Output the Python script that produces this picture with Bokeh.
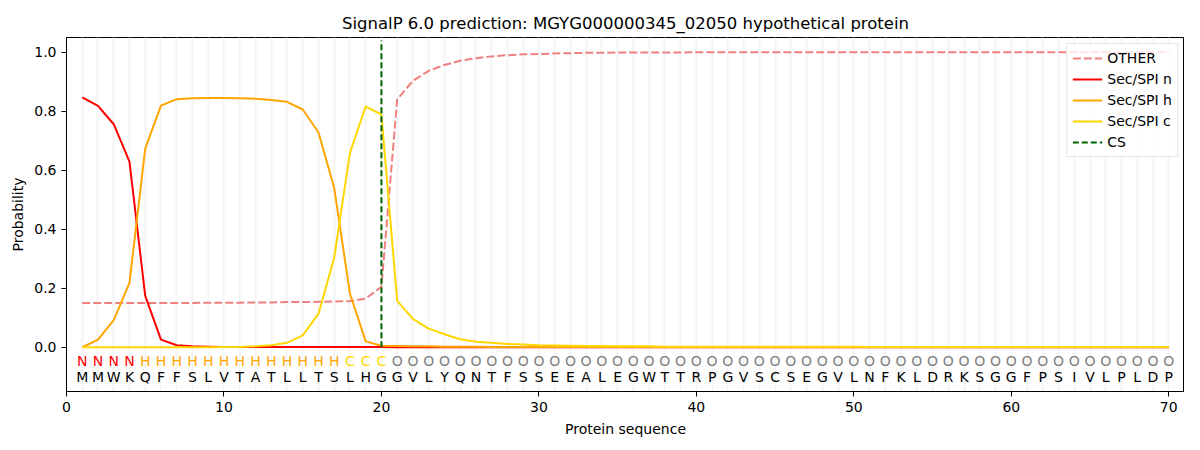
from bokeh.plotting import figure
from bokeh.models import Range1d, FixedTicker, Legend
from bokeh.core.properties import value
from bokeh.embed import file_html
from bokeh.resources import INLINE

title = "SignalP 6.0 prediction: MGYG000000345_02050 hypothetical protein"
sequence = "MMWKQFFSLVTATLLTSLHGGVLYQNTFSSEEALEGWTTRPGVSCSEGVLNFKLDRKSGGFPSIVLPLDP"
region_labels = "NNNNHHHHHHHHHHHHHCCC" + "O" * 50
positions = list(range(1, 71))
cs_position = 20

other = [0.150, 0.150, 0.150, 0.150, 0.150, 0.150, 0.150, 0.150, 0.151, 0.151,
         0.151, 0.152, 0.152, 0.153, 0.153, 0.154, 0.155, 0.156, 0.165, 0.205,
         0.840, 0.903, 0.937, 0.957, 0.971, 0.980, 0.986, 0.990, 0.993, 0.994,
         0.996, 0.997, 0.998, 0.998, 0.999, 0.999, 0.999, 0.999, 0.999, 1.000,
         1.000, 1.000, 1.000, 1.000, 1.000, 1.000, 1.000, 1.000, 1.000, 1.000,
         1.000, 1.000, 1.000, 1.000, 1.000, 1.000, 1.000, 1.000, 1.000, 1.000,
         1.000, 1.000, 1.000, 1.000, 1.000, 1.000, 1.000, 1.000, 1.000, 1.000]
sec_n = [0.847, 0.818, 0.756, 0.629, 0.174, 0.026, 0.007, 0.003, 0.002, 0.001,
         0.001, 0.001, 0.001, 0.001, 0.001, 0.001, 0.001, 0.001, 0.001, 0.001,
         0.000, 0.000, 0.000, 0.000, 0.000, 0.000, 0.000, 0.000, 0.000, 0.000,
         0.000, 0.000, 0.000, 0.000, 0.000, 0.000, 0.000, 0.000, 0.000, 0.000,
         0.000, 0.000, 0.000, 0.000, 0.000, 0.000, 0.000, 0.000, 0.000, 0.000,
         0.000, 0.000, 0.000, 0.000, 0.000, 0.000, 0.000, 0.000, 0.000, 0.000,
         0.000, 0.000, 0.000, 0.000, 0.000, 0.000, 0.000, 0.000, 0.000, 0.000]
sec_h = [0.000, 0.026, 0.092, 0.218, 0.673, 0.819, 0.841, 0.844, 0.845, 0.845,
         0.844, 0.842, 0.838, 0.832, 0.806, 0.729, 0.540, 0.182, 0.020, 0.005,
         0.004, 0.003, 0.003, 0.002, 0.002, 0.002, 0.001, 0.001, 0.001, 0.001,
         0.001, 0.001, 0.001, 0.001, 0.001, 0.001, 0.001, 0.001, 0.001, 0.001,
         0.001, 0.001, 0.001, 0.001, 0.001, 0.001, 0.001, 0.001, 0.001, 0.001,
         0.001, 0.001, 0.001, 0.001, 0.001, 0.001, 0.001, 0.001, 0.001, 0.001,
         0.001, 0.001, 0.001, 0.001, 0.001, 0.001, 0.001, 0.001, 0.001, 0.001]
sec_c = [0.000, 0.000, 0.000, 0.000, 0.000, 0.000, 0.000, 0.000, 0.000, 0.001,
         0.001, 0.003, 0.007, 0.015, 0.040, 0.113, 0.303, 0.659, 0.816, 0.789,
         0.157, 0.096, 0.063, 0.044, 0.027, 0.019, 0.015, 0.011, 0.009, 0.007,
         0.006, 0.005, 0.004, 0.004, 0.003, 0.003, 0.003, 0.002, 0.002, 0.002,
         0.002, 0.002, 0.002, 0.002, 0.002, 0.002, 0.002, 0.002, 0.002, 0.002,
         0.001, 0.001, 0.001, 0.001, 0.001, 0.001, 0.001, 0.001, 0.001, 0.001,
         0.001, 0.001, 0.001, 0.001, 0.001, 0.001, 0.001, 0.001, 0.001, 0.001]
x_ticks = [0, 10, 20, 30, 40, 50, 60, 70]
y_ticks = [0.0, 0.2, 0.4, 0.6, 0.8, 1.0]

FONT = "DejaVu Sans"
label_colors = {"N": "red", "H": "orange", "C": "gold", "O": "gray"}

p = figure(width=1184, height=441, output_backend="svg", toolbar_location=None,
           x_range=Range1d(0, 71), y_range=Range1d(-0.15, 1.05),
           min_border_left=66, min_border_right=0, min_border_top=37, min_border_bottom=50)

p.title.text = title
p.title.align = "center"
p.title.text_font = FONT
p.title.text_font_size = "16.5px"
p.title.text_font_style = "normal"
p.title.text_color = "black"

p.outline_line_color = "black"
p.outline_line_alpha = 1
p.outline_line_width = 1

p.ygrid.visible = False
p.xgrid.ticker = FixedTicker(ticks=positions)
p.xgrid.grid_line_color = "#f4f4f4"
p.xgrid.grid_line_width = 2
p.xgrid.grid_line_alpha = 1

p.xaxis.ticker = FixedTicker(ticks=x_ticks)
p.yaxis.ticker = FixedTicker(ticks=y_ticks)
p.yaxis.major_label_overrides = {t: f"{t:.1f}" for t in y_ticks}
for ax in (p.xaxis, p.yaxis):
    ax.minor_tick_line_color = None
    ax.major_tick_out = 5
    ax.major_tick_in = 0
    ax.major_label_text_font = FONT
    ax.major_label_text_font_size = "14px"
    ax.major_label_text_color = "black"
    ax.axis_label_text_font = FONT
    ax.axis_label_text_font_size = "14px"
    ax.axis_label_text_font_style = "normal"
    ax.axis_label_text_color = "black"
    ax.axis_line_color = "black"
    ax.major_tick_line_color = "black"
p.xaxis.axis_label = "Protein sequence"
p.yaxis.axis_label = "Probability"
p.xaxis.axis_label_standoff = 6
p.yaxis.axis_label_standoff = 5

r_other = p.line(positions, other, line_color="#f08080", line_width=2, line_dash="8 3")
r_n = p.line(positions, sec_n, line_color="red", line_width=2)
r_h = p.line(positions, sec_h, line_color="orange", line_width=2)
r_c = p.line(positions, sec_c, line_color="gold", line_width=2)
r_cs = p.segment(x0=[cs_position], y0=[0], x1=[cs_position], y1=[1.04],
                 line_color="darkgreen", line_width=2, line_dash="6 3")

p.text(x=positions, y=[-0.047] * len(positions), text=list(region_labels),
       text_color=[label_colors[c] for c in region_labels],
       text_align="center", text_baseline="middle",
       text_font=value(FONT), text_font_size="14px")
p.text(x=positions, y=[-0.102] * len(positions), text=list(sequence),
       text_color="black", text_align="center", text_baseline="middle",
       text_font=value(FONT), text_font_size="14px")

legend = Legend(items=[("OTHER", [r_other]), ("Sec/SPI n", [r_n]), ("Sec/SPI h", [r_h]),
                       ("Sec/SPI c", [r_c]), ("CS", [r_cs])],
                location="top_right")
legend.label_text_font = FONT
legend.label_text_font_size = "14px"
legend.label_text_color = "black"
legend.glyph_width = 30
legend.glyph_height = 18
legend.label_height = 18
legend.spacing = 3
legend.padding = 5
legend.margin = 6
legend.border_line_color = "#cccccc"
legend.background_fill_alpha = 0.8
p.add_layout(legend)

open("out.html", "w").write(file_html(p, INLINE))
